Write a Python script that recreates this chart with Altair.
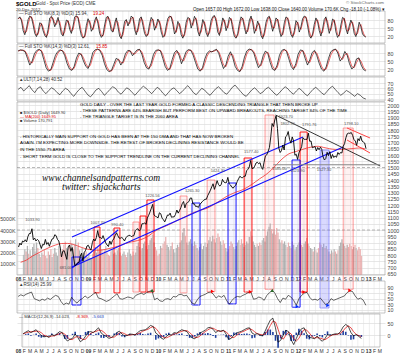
import altair as alt
import pandas as pd

FONT = "Liberation Sans"
SERIF = "Liberation Serif"
W, H = 368, 354
LEFT = 17

# ------------------------------------------------------------------ values
price_close = [
    864, 895, 880, 912, 905, 922, 905, 948, 972, 972,
    1010, 922, 935, 912, 925, 915, 885, 852, 885, 880,
    925, 885, 900, 870, 903, 928, 932, 962, 955, 925,
    912, 865, 785, 830, 835, 800, 765, 865, 880, 830,
    860, 785, 715, 720, 738, 740, 790, 815, 750, 820,
    838, 872,
    878, 855, 840, 898, 928, 912, 940, 995, 942, 940,
    930, 955, 925, 897, 880, 868, 912, 885, 915, 930,
    955, 978, 955, 935, 935, 940, 930, 912, 937, 950,
    955, 958, 947, 952, 955, 995, 1006, 1010, 992, 1003,
    1050, 1050, 1057, 1045, 1095, 1118, 1145, 1175, 1205, 1120,
    1110, 1105,
    1097, 1138, 1130, 1095, 1082, 1065, 1092, 1120, 1118, 1135,
    1102, 1105, 1105, 1125, 1160, 1135, 1155, 1180, 1210, 1228,
    1177, 1212, 1220, 1228, 1256, 1256, 1208, 1210, 1188, 1190,
    1180, 1203, 1215, 1228, 1237, 1246, 1246, 1275, 1296, 1318,
    1345, 1370, 1325, 1357, 1395, 1365, 1352, 1362, 1405, 1385,
    1378, 1380, 1421,
    1370, 1360, 1342, 1335, 1350, 1360, 1388, 1410, 1430, 1420,
    1418, 1430, 1430, 1474, 1486, 1505, 1556, 1492, 1493, 1510,
    1536, 1542, 1530, 1539, 1500, 1485, 1542, 1593, 1601, 1628,
    1660, 1745, 1852, 1828, 1880, 1915, 1812, 1656, 1620, 1636,
    1680, 1640, 1745, 1755, 1788, 1725, 1695, 1745, 1712, 1598,
    1606, 1565,
    1617, 1640, 1666, 1738, 1725, 1725, 1725, 1775, 1710, 1712,
    1658, 1662, 1668, 1632, 1660, 1642, 1663, 1645, 1585, 1560,
    1572, 1622, 1595, 1627, 1572, 1604, 1580, 1592, 1582, 1620,
    1605, 1620, 1616, 1670, 1691, 1738, 1770, 1775, 1773, 1780,
    1757, 1724, 1712, 1677, 1731, 1714, 1751, 1712, 1704, 1696,
    1650,
]

volume_k = [
    1800, 2300, 2100, 2600, 1900, 2200, 1700, 2500, 2800, 2100,
    2900, 2400, 1900, 1600, 2000, 1800, 2200, 1700, 1500, 2100,
    1800, 2300, 1600, 1900, 2400, 2000, 1700, 2600, 2200, 1800,
    2300, 2700, 3000, 2400, 2000, 2600, 3100, 2800, 2300, 2700,
    3200, 2500, 2900, 2200, 1800, 2400, 2000, 1700, 2100, 1600,
    1900, 1500,
    1500, 1900, 2200, 2500, 2000, 2400, 2100, 2700, 2300, 1900,
    2200, 2600, 2000, 1800, 1700, 2100, 2300, 1900, 2000, 1800,
    2200, 2400, 2000, 1700, 1900, 2100, 1800, 1600, 2000, 2300,
    1900, 1700, 2100, 1800, 2000, 2600, 2900, 2500, 2200, 2400,
    2800, 3000, 2600, 2300, 2700, 3100, 3300, 3600, 2900, 2500,
    2200, 1700,
    1900, 2600, 2400, 2800, 3000, 3400, 2700, 2500, 2200, 2600,
    2900, 2300, 2000, 2400, 2700, 2500, 2900, 3100, 3800, 4200,
    3500, 2900, 2700, 3000, 3200, 2800, 2600, 3000, 2700, 2400,
    2200, 2500, 2800, 2300, 2600, 2900, 2500, 2800, 3100, 3400,
    3000, 3500, 3200, 2900, 3300, 3700, 3400, 3000, 2700, 3100,
    2800, 2400, 2100,
    2300, 2600, 3000, 2800, 2500, 2300, 2600, 2900, 3100, 2700,
    3200, 2800, 2500, 2700, 3000, 2800, 3400, 3900, 3500, 3000,
    2700, 2500, 2800, 2600, 2900, 2700, 3100, 3300, 3000, 3500,
    3900, 4300, 4600, 4100, 3700, 3900, 3600, 4200, 3800, 3200,
    2900, 3100, 2800, 3000, 2700, 2500, 2900, 2600, 2400, 3000,
    2700, 2200,
    2500, 2700, 2900, 3100, 2700, 2500, 2800, 3000, 3300, 2800,
    2600, 2400, 2300, 2100, 2500, 2200, 2000, 2400, 2900, 2700,
    2500, 2800, 2400, 2600, 2300, 2100, 1900, 2200, 2000, 2300,
    2100, 1900, 2200, 2600, 2900, 3200, 2800, 2600, 2400, 2700,
    2500, 2800, 2600, 2300, 2500, 2700, 2400, 2200, 2500, 2300,
    1700,
]

ma200 = [
    742, 760, 790, 815, 840, 862, 880, 892, 893, 885, 868, 852,
    842, 838, 840, 850, 860, 875, 892, 905, 915, 930, 955, 990,
    1015, 1035, 1055, 1080, 1100, 1125, 1145, 1160, 1175, 1200, 1230, 1260,
    1285, 1305, 1320, 1345, 1375, 1410, 1440, 1480, 1530, 1575, 1610, 1625,
    1640, 1655, 1665, 1670, 1660, 1650, 1645, 1645, 1648, 1652, 1656, 1650,
]

sto8_k = [
    85, 92, 78, 40, 25, 48, 82, 95, 90, 62,
    30, 18, 35, 70, 65, 40, 22, 15, 45, 88,
    94, 80, 55, 72, 90, 60, 28, 20, 52, 80,
    76, 45, 30, 58, 92, 96, 88, 50, 22, 12,
    20, 60, 85, 70, 38, 50, 78, 92, 66, 30,
    15, 25, 62, 90, 94, 72, 40, 35, 68, 88,
    55, 20, 10, 38, 75, 82, 58, 74, 95, 88,
    45, 25, 50, 85, 92, 60, 30, 18, 28, 66,
    90, 78, 42, 60, 84, 70, 35, 15, 22, 58,
    86, 95, 92, 64, 28, 40, 75, 60, 25, 12,
    30, 72, 90, 85, 50, 70, 94, 80, 38, 20,
    48, 82, 66, 32, 18, 42, 78, 93, 97, 75,
    35, 22, 55, 88, 74, 40, 60, 90, 82, 45,
    18, 12, 30, 68, 92, 84, 52, 28, 45, 80,
    95, 70, 30, 48, 76, 58, 22, 10, 35, 72,
    90, 94, 65, 38, 62, 88, 80, 42, 18, 30,
    70, 92, 86, 55, 25, 15, 40, 78, 68, 35,
    55, 85, 95, 90, 58, 22, 12, 28, 64, 88,
    74, 40, 20, 46, 82, 92, 60, 30, 52, 84,
    78, 36, 15, 25, 62, 90, 85, 48, 28, 58,
    80, 66, 30, 18, 40, 72, 55, 28, 20, 16,
]

sto14_k = [
    88, 92, 90, 85, 60, 35, 50, 78, 90, 94,
    86, 55, 25, 12, 18, 45, 72, 86, 92, 88,
    70, 40, 20, 15, 30, 62, 80, 75, 50, 30,
    22, 48, 82, 92, 95, 90, 72, 40, 18, 10,
    15, 38, 60, 55, 35, 50, 78, 90, 88, 70,
    82, 92, 94, 76, 45, 25, 20, 42, 75, 90,
    92, 88, 60, 30, 15, 22, 55, 82, 90, 70,
    40, 62, 86, 93, 90, 72, 45, 20, 12, 25,
    58, 80, 88, 84, 90, 94, 78, 48, 22, 35,
    68, 85, 62, 30, 15, 10, 30, 65, 88, 95,
    92, 80, 50, 25, 38, 70, 88, 78, 45, 20,
    15, 35, 72, 90, 94, 86, 58, 30, 18, 40,
    76, 92, 88, 60, 35, 55, 82, 90, 70, 42,
    20, 12, 28, 60, 85, 92, 95, 80, 50, 62,
    86, 72, 40, 20, 30, 58, 62, 35, 18, 13,
]

ult_line = [
    58, 62, 55, 60, 65, 57, 52, 60, 63, 55,
    50, 56, 61, 58, 52, 48, 55, 60, 57, 50,
    45, 52, 58, 62, 55, 48, 44, 50, 57, 60,
    54, 47, 52, 58, 63, 60, 53, 49, 55, 61,
    58, 52, 47, 53, 59, 64, 60, 55, 50, 56,
    62, 58, 51, 46, 52, 58, 61, 56, 50, 54,
    60, 65, 59, 52, 48, 54, 60, 57, 51, 47,
    53, 59, 63, 58, 52, 49, 55, 62, 66, 60,
    54, 48, 45, 51, 57, 61, 56, 50, 53, 59,
    62, 57, 51, 47, 52, 58, 63, 59, 53, 49,
    55, 60, 56, 50, 46, 52, 58, 62, 57, 52,
    48, 54, 60, 64, 58, 52, 47, 51, 56, 53,
    49, 45, 50, 47, 42, 40,
]

rsi_line = [
    58, 64, 60, 66, 70, 74, 50, 46, 42, 48, 44, 52, 47, 55, 62, 58, 40, 28, 34, 30, 55, 42, 34, 45, 50, 60,
    52, 58, 66, 73, 52, 50, 45, 40, 44, 52, 60, 68, 50, 48, 52, 56, 54, 50, 62, 66, 70, 65, 72, 76, 80, 46,
    52, 42, 40, 48, 50, 46, 58, 56, 64, 66, 60, 62, 48, 34, 30, 46, 58, 62, 66, 72, 74, 66, 52, 60, 55, 62,
    42, 30, 44, 54, 58, 56, 62, 66, 72, 74, 48, 50, 56, 52, 44, 62, 72, 80, 70, 50, 36, 52, 48, 62, 56, 44,
    26, 50, 62, 70, 73, 55, 45, 48, 44, 52, 40, 28, 34, 50, 44, 48, 52, 56, 60, 72, 78, 76, 60, 48, 52, 45, 26,
]

macd_line = [
    5, 12, 18, 10, 16, 22, 8, -2, -8, -5, -10, 2, -3, 5, 14, 10, -12, -25, -18, -14, 4, -10, -28, -20, -5, 12,
    14, 10, 20, 30, 8, 0, -6, -14, -10, -2, 10, 16, 4, -4, -2, 4, 3, 0, 10, 18, 20, 22, 30, 40, 35, 8,
    0, -12, -18, -6, 2, 0, 10, 8, 16, 22, 18, 14, -2, -12, -16, -4, 8, 14, 20, 30, 32, 24, 10, 18, 16, 20,
    4, -18, -14, 0, 8, 12, 16, 22, 28, 30, 8, 2, 6, 0, -4, 16, 40, 62, 70, 30, -30, -22, 0, 20, 14, -20,
    -40, -15, 12, 26, 30, 5, -10, -12, -16, -4, -18, -26, -15, 2, -2, 2, 5, 4, 14, 34, 44, 36, 10, -4, 2, -6, -14,
]

# annotation boxes: start, end, top (price), bottom (RSI value), kind
box_start = ["2008-10-09", "2010-06-27", "2011-01-01", "2011-12-01", "2012-04-25",
             "2009-02-01", "2009-05-16", "2009-08-23", "2009-09-29", "2009-11-04",
             "2010-04-26", "2010-09-14", "2011-03-26", "2011-07-13", "2012-01-12", "2012-08-24"]
box_end = ["2008-11-25", "2010-08-08", "2011-02-12", "2012-01-12", "2012-06-11",
           "2009-03-04", "2009-06-16", "2009-09-24", "2009-10-30", "2009-12-11",
           "2010-06-01", "2010-10-25", "2011-05-06", "2011-08-29", "2012-02-18", "2012-10-15"]
box_top = [784, 1216, 1376, 1560, 1640,
           1024, 1016, 1064, 1112, 1240,
           1272, 1400, 1576, 1920, 1784, 1816]
box_bottom_rsi = [27, 27, 31, 19, 16,
                  71, 71, 74, 74, 74,
                  71, 75, 74, 84, 74, 84]
box_kind = ["blue", "blue", "blue", "blue", "bluel",
            "red", "red", "redl", "red", "red",
            "redl", "redl", "red", "redl", "red", "redl"]

# RSI signal markers
mark_date = ["2009-12-01", "2010-10-12", "2011-04-28", "2011-08-20", "2012-02-01", "2012-09-28",
             "2011-12-28", "2012-06-05"]
mark_rsi = [80, 76, 75, 80, 74, 80, 22, 26]
mark_kind = ["up", "red", "red", "up", "red", "red", "blue", "blue"]

# trend lines (date, price)
line_id = ["u", "u", "l", "l", "s", "s"]
line_date = ["2008-10-09", "2012-01-27", "2008-10-09", "2012-08-24", "2008-10-09", "2009-06-06"]
line_price = [944, 1744, 704, 1664, 696, 1000]

tri_id = ["t", "t"]
tri_date = ["2011-09-06", "2013-03-05"]
tri_price = [1920, 1512]

base_date = ["2011-08-25", "2013-03-05"]
base_price = [1522, 1522]

rc_id = ["a", "a", "b", "b"]
rc_date = ["2012-09-13", "2013-01-11", "2012-09-13", "2013-01-11"]
rc_price = [1816, 1736, 1720, 1616]

lab_date = ["2008-03-17", "2008-10-24", "2009-02-20", "2009-06-03", "2009-12-03", "2010-06-28",
            "2010-11-09", "2011-05-02", "2011-09-06", "2011-09-26", "2011-11-08", "2011-12-29",
            "2012-02-29", "2012-05-16", "2012-10-05"]
lab_price = [1033.9, 681.0, 1007.7, 990.4, 1226.6, 1265.3, 1424.3, 1577.4, 1923.7, 1535.0,
             1802.9, 1523.9, 1791.8, 1527.3, 1798.1]
lab_text = ["1033.90", "681.00", "1007.70", "990.40", "1226.56", "1265.30", "1424.30", "1577.40",
            "1923.70", "1535.00", "1802.90", "1523.90", "1791.76", "1527.30", "1798.10"]
lab_side = ["above", "left", "above", "above", "above", "above", "above", "above", "right", "below",
            "above", "below", "above", "below", "above"]

# ------------------------------------------------------------------ geometry (pixel ranges of panels)
P1 = dict(lo=-6, hi=114, top=11, bot=43)
P2 = dict(lo=-6, hi=114, top=44, bot=76)
P3 = dict(lo=36.25, hi=81.25, top=77, bot=101)
PM = dict(lo=640, hi=2024, top=102, bot=275)
PV = dict(lo=0, hi=15446, top=102, bot=275)
PR = dict(lo=-2, hi=114, top=281, bot=313)
PD = dict(lo=-50, hi=87.5, top=314, bot=347)


def px_of(p, v):
    return p["bot"] - (v - p["lo"]) * (p["bot"] - p["top"]) / (p["hi"] - p["lo"])


def val_at(p, y):
    return p["lo"] + (p["bot"] - y) * (p["hi"] - p["lo"]) / (p["bot"] - p["top"])


XDOM = [alt.DateTime(year=2007, month=12, date=27), alt.DateTime(year=2013, month=3, date=30)]
FIRST = pd.Timestamp("2007-12-27")
LAST = pd.Timestamp("2013-03-30")
months = pd.date_range("2008-01-01", "2013-03-01", freq="MS")


def X(field):
    return alt.X(f"{field}:T", scale=alt.Scale(domain=XDOM), axis=None, title=None)


def make_axis(values, orient="right", grid=True, labelExpr=None):
    kw = dict(orient=orient, values=values, grid=grid, gridColor="#cfcfcf", gridWidth=0.5,
              domain=False, ticks=False, labelFontSize=5.3, labelColor="#444", labelFont=FONT,
              labelPadding=2, title=None, labelOverlap=False, labelFlush=False, format="d")
    if labelExpr:
        kw["labelExpr"] = labelExpr
    return alt.Axis(**kw)


def Yf(p, axis):
    sc = alt.Scale(domain=[p["lo"], p["hi"]], range=[p["bot"], p["top"]], nice=False, zero=False)

    def Y(field):
        return alt.Y(f"{field}:Q", scale=sc, axis=axis, title=None)
    return Y


def frame(p, Y):
    df = pd.DataFrame({"a": [FIRST], "b": [LAST], "lo": [p["lo"]], "hi": [p["hi"]]})
    return alt.Chart(df).mark_rect(fill="white", fillOpacity=0, stroke="#a0a0a0", strokeWidth=0.6).encode(
        x=X("a"), x2="b", y=Y("lo"), y2="hi")


def vgrid(p, Y):
    df = pd.DataFrame({"m": months, "lo": p["lo"], "hi": p["hi"]})
    return alt.Chart(df).mark_rule(color="#dedede", strokeWidth=0.5).encode(x=X("m"), y=Y("lo"), y2="hi")


def txt(x, y, s, size=4.6, color="#000", weight="normal", align="left", font=FONT, style="normal"):
    return alt.Chart(pd.DataFrame({"t": [s]})).mark_text(
        x=x - LEFT, y=y, align=align, baseline="middle", fontSize=size, color=color,
        fontWeight=weight, font=font, fontStyle=style).encode(text="t:N")


def osc_dates(vals):
    return pd.date_range("2008-01-02", "2012-12-20", periods=len(vals))


# ------------------------------------------------------------------ stochastic panels
def sto_panel(p, vals):
    Y = Yf(p, make_axis([20, 50, 80]))
    df = pd.DataFrame({"date": osc_dates(vals), "k": vals})
    base = alt.Chart(df).transform_window(d="mean(k)", frame=[-1, 0])
    kline = base.mark_line(color="black", strokeWidth=0.7).encode(x=X("date"), y=Y("k"))
    dline = base.mark_line(color="#e00000", strokeWidth=0.6).encode(x=X("date"), y=Y("d"))
    return alt.layer(vgrid(p, Y), frame(p, Y), dline, kline)


p1 = sto_panel(P1, sto8_k)
p2 = sto_panel(P2, sto14_k)

# ULT panel
Yu = Yf(P3, make_axis([40, 50, 60, 70]))
udf = pd.DataFrame({"date": osc_dates(ult_line), "u": ult_line})
p3 = alt.layer(vgrid(P3, Yu), frame(P3, Yu),
               alt.Chart(udf).mark_line(color="black", strokeWidth=0.6).encode(x=X("date"), y=Yu("u")))

# ------------------------------------------------------------------ main panel
weeks = pd.date_range("2008-01-04", periods=len(price_close), freq="7D")
mdf = pd.DataFrame({"date": weeks, "close": price_close, "vol": volume_k})

Yv = Yf(PV, make_axis([1000, 2000, 3000, 4000, 5000], orient="left", grid=False,
                      labelExpr="datum.value + 'K'"))
vol = alt.Chart(mdf).transform_window(prev="lag(close)").mark_bar(size=1.25, opacity=0.85).encode(
    x=X("date"), y=Yv("vol"),
    color=alt.when("datum.close >= datum.prev").then(alt.value("#a4a4a4")).otherwise(alt.value("#e7a2a2")))
main_vol = alt.layer(vol)

Yp = Yf(PM, make_axis(list(range(650, 2001, 50))))

dashed = alt.Chart(pd.DataFrame({"a": [FIRST, FIRST], "b": [LAST, LAST], "p": [1000, 1500]})).mark_rule(
    color="#8a8a8a", strokeWidth=0.6, strokeDash=[3, 2]).encode(x=X("a"), x2="b", y=Yp("p"))

bdf = pd.DataFrame({"s": pd.to_datetime(box_start), "e": pd.to_datetime(box_end), "top": box_top,
                    "rsi": box_bottom_rsi, "kind": box_kind})
bdf["bot"] = [val_at(PM, px_of(PR, v)) for v in bdf["rsi"]]


def boxes(kind, stroke, fill, sop, fop):
    return alt.Chart(bdf[bdf["kind"] == kind]).mark_rect(
        stroke=stroke, strokeWidth=1, strokeOpacity=sop, fill=fill, fillOpacity=fop).encode(
        x=X("s"), x2="e", y=Yp("top"), y2="bot")


box_layers = [
    boxes("redl", "#ff5050", "#ff8080", 0.55, 0.10),
    boxes("red", "#ff0000", "#ff6060", 0.9, 0.10),
    boxes("bluel", "#6060ff", "#8080ff", 0.6, 0.30),
    boxes("blue", "#0000ff", "#8080ff", 0.9, 0.08),
]

ma = alt.Chart(pd.DataFrame({"date": pd.date_range("2008-01-01", periods=len(ma200), freq="MS") + pd.Timedelta(days=14),
                             "ma": ma200})).mark_line(color="#f03030", strokeWidth=0.8, interpolate="monotone").encode(
    x=X("date"), y=Yp("ma"))

blue_lines = alt.Chart(pd.DataFrame({"id": line_id, "date": pd.to_datetime(line_date), "p": line_price})).mark_line(
    color="#1010ff", strokeWidth=1.1).encode(x=X("date"), y=Yp("p"), detail="id:N")
tri = alt.Chart(pd.DataFrame({"id": tri_id, "date": pd.to_datetime(tri_date), "p": tri_price})).mark_line(
    color="#222", strokeWidth=0.9).encode(x=X("date"), y=Yp("p"), detail="id:N")
base_line = alt.Chart(pd.DataFrame({"date": pd.to_datetime(base_date), "p": base_price})).mark_line(
    color="#888", strokeWidth=1.2).encode(x=X("date"), y=Yp("p"))
red_chan = alt.Chart(pd.DataFrame({"id": rc_id, "date": pd.to_datetime(rc_date), "p": rc_price})).mark_line(
    color="#ff3030", strokeWidth=0.9).encode(x=X("date"), y=Yp("p"), detail="id:N")

price_line = alt.Chart(mdf).mark_line(color="black", strokeWidth=0.9).encode(x=X("date"), y=Yp("close"))

ldf = pd.DataFrame({"date": pd.to_datetime(lab_date), "p": lab_price, "t": lab_text, "side": lab_side})


def price_labels(side, **kw):
    return alt.Chart(ldf[ldf["side"] == side]).mark_text(fontSize=4, color="#555", font=FONT, **kw).encode(
        x=X("date"), y=Yp("p"), text="t:N")


lab_layers = [
    price_labels("above", dy=-4, baseline="bottom"),
    price_labels("below", dy=4, baseline="top"),
    price_labels("right", dx=3, dy=2, align="left", baseline="middle"),
    price_labels("left", dx=-3, dy=-2, align="right", baseline="middle"),
]

main_price = alt.layer(vgrid(PM, Yp), frame(PM, Yp), dashed, *box_layers, ma, blue_lines, tri, base_line,
                       red_chan, price_line, *lab_layers)

# ------------------------------------------------------------------ RSI
Yr = Yf(PR, make_axis([10, 30, 50, 70, 90]))
rdf = pd.DataFrame({"date": osc_dates(rsi_line), "r": rsi_line})
kdf = pd.DataFrame({"date": pd.to_datetime(mark_date), "r": mark_rsi, "k": mark_kind})
rsi_marks = alt.Chart(kdf).mark_point(filled=True, size=14, opacity=1).encode(
    x=X("date"), y=Yr("r"),
    shape=alt.Shape("k:N", scale=alt.Scale(domain=["up", "red", "blue"],
                                           range=["triangle-up", "triangle-right", "triangle-right"]), legend=None),
    color=alt.Color("k:N", scale=alt.Scale(domain=["up", "red", "blue"],
                                           range=["#2a6a2a", "#ff0000", "#0030ff"]), legend=None))
rsi_panel = alt.layer(vgrid(PR, Yr), frame(PR, Yr),
                      alt.Chart(rdf).mark_line(color="black", strokeWidth=0.6).encode(x=X("date"), y=Yr("r")),
                      rsi_marks)

# ------------------------------------------------------------------ MACD
Ym = Yf(PD, make_axis([0, 50]))
ddf = pd.DataFrame({"date": osc_dates(macd_line), "m": macd_line})
mbase = alt.Chart(ddf).transform_window(sig="mean(m)", frame=[-2, 0]).transform_calculate(h="datum.m - datum.sig")
macd_panel = alt.layer(
    vgrid(PD, Ym), frame(PD, Ym),
    mbase.mark_bar(size=1.6, color="#1f3f9f").encode(x=X("date"), y=Ym("h")),
    mbase.mark_line(color="#e00000", strokeWidth=0.7).encode(x=X("date"), y=Ym("sig")),
    mbase.mark_line(color="black", strokeWidth=0.7).encode(x=X("date"), y=Ym("m")),
)

# ------------------------------------------------------------------ month labels
mvals = [alt.DateTime(year=int(d.year), month=int(d.month), date=1) for d in months]


def xlabels(axis_y):
    ax = alt.Axis(orient="bottom", offset=axis_y - H, values=mvals,
                  labelExpr="month(datum.value) == 0 ? timeFormat(datum.value, '%y') : slice(timeFormat(datum.value, '%b'), 0, 1)",
                  labelFontSize=5, labelFont=FONT, labelColor="#333", ticks=False, domain=False, grid=False,
                  labelPadding=1, labelBaseline="top", labelOverlap=False, labelFlush=False, title=None,
                  labelFontWeight={"condition": {"test": "month(datum.value) == 0", "value": "bold"},
                                   "value": "normal"})
    return alt.Chart(pd.DataFrame({"m": months})).mark_rule(opacity=0).encode(
        x=alt.X("m:T", scale=alt.Scale(domain=XDOM), axis=ax))


# ------------------------------------------------------------------ texts
texts = [
    txt(16, 4, "$GOLD", size=6, weight="bold"),
    txt(36, 4, "Gold - Spot Price (EOD)  CME", size=4.5, color="#333"),
    txt(16, 10, "20-Dec-2012", size=4.2, color="#333"),
    txt(384, 3, "\u00a9 StockCharts.com", size=4.4, color="#666", align="right"),
    txt(385, 10, "Open 1657.00  High 1672.00  Low 1638.00  Close 1640.00  Volume 170.6K  Chg -18.10 (-1.08%) \u25be",
        size=4.5, color="#111", align="right"),
    txt(19, 14, "\u2014 Full STO %K(8,3) %D(3) 15.94,", size=4.5, color="#333"),
    txt(93, 14, "19.24", size=4.5, color="#e00000"),
    txt(19, 47, "\u2014 Full STO %K(14,3) %D(3) 12.61,", size=4.5, color="#333"),
    txt(96, 47, "15.85", size=4.5, color="#e00000"),
    txt(19, 80, "\u25b2ULT(7,14,28) 40.52", size=4.5, color="#333"),
    txt(19, 285, "\u25b2RSI(14) 25.99", size=4.5, color="#333"),
    txt(19, 317, "\u2014 MACD(12,26,9) -14.023,", size=4.2, color="#333"),
    txt(76, 317, "-8.369,", size=4.2, color="#e00000"),
    txt(92, 317, "-5.663", size=4.2, color="#2040c0"),
    txt(20, 113, "\u25a0 $GOLD (Daily) 1649.90", size=4, color="#333"),
    txt(20, 117, "\u2014 MA(200) 1649.95", size=4, color="#e00000"),
    txt(20, 121, "\u25a0 Volume 170,791", size=4, color="#333"),
    txt(80, 105, "GOLD DAILY - OVER THE LAST YEAR GOLD FORMED A CLASSIC DESCENDING TRIANGLE THAT THEN BROKE UP", size=4.4),
    txt(80, 111, "- THESE PATTERNS ARE 64% BEARISH BUT PERFORM BEST ON UPWARD BREAKOUTS, REACHING TARGET 84% OF THE TIME", size=4.4),
    txt(80, 117, "- THE TRIANGLE TARGET IS IN THE 2060 AREA", size=4.4),
    txt(20, 137, "- HISTORICALLY MAIN SUPPORT ON GOLD HAS BEEN AT THE 150 DMA AND THAT HAS NOW BROKEN", size=4.4),
    txt(20, 143, "AGAIN. I'M EXPECTING MORE DOWNSIDE. THE RETEST OF BROKEN DECLINING RESISTANCE WOULD BE", size=4.4),
    txt(20, 150, "IN THE 1550-75 AREA", size=4.4),
    txt(20, 157, "- SHORT TERM GOLD IS CLOSE TO THE SUPPORT TRENDLINE ON THE CURRENT DECLINING CHANNEL", size=4.4),
    txt(42, 178, "www.channelsandpatterns.com", size=9.5, color="#111", font=SERIF, style="italic"),
    txt(62, 187, "twitter: shjackcharts", size=9.5, color="#111", font=SERIF, style="italic"),
]

chart = alt.layer(
    p1, p2, p3, main_vol, main_price, rsi_panel, macd_panel, xlabels(275), xlabels(347), *texts
).resolve_scale(x="independent", y="independent").properties(
    width=W, height=H,
    padding={"left": LEFT, "right": 15, "top": 0, "bottom": 0},
    autosize=alt.AutoSizeParams(type="none"),
    background="white",
).configure_view(stroke=None)

chart.save("out.html", embed_options={"renderer": "svg", "actions": False})
